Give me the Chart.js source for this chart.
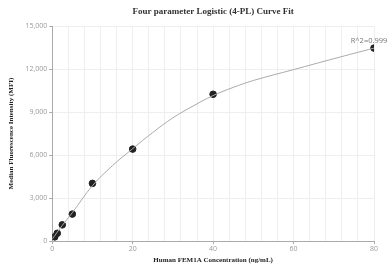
<!DOCTYPE html>
<html>
<head>
<meta charset="utf-8">
<script src="https://cdn.jsdelivr.net/npm/chart.js@4.4.1/dist/chart.umd.min.js"></script>
<style>
  html, body { margin: 0; padding: 0; background: #fff; }
  #wrap { width: 392px; height: 271px; }
</style>
</head>
<body>
<div id="wrap"><canvas id="myChart"></canvas></div>
<script>
// measured standards
var conc = [0.625, 1.25, 2.5, 5, 10, 20, 40, 80];
var mfi = [300, 550, 1140, 1890, 4030, 6420, 10240, 13460];

// fitted curve
var fit_x = [0, 2.5, 5, 10, 15, 20, 25, 30, 35, 40, 45, 50, 60, 70, 80];
var fit_y = [150, 1100, 1990, 3870, 5270, 6450, 7580, 8600, 9420, 10150, 10720, 11200, 11960, 12720, 13460];

var x_ticks = [0, 20, 40, 60, 80];
var r2_label = "R^2=0.999";
var title_text = 'Four parameter Logistic (4-PL) Curve Fit';

var serif = '"Liberation Serif", "Times New Roman", serif';

function xy(xs, ys){
  return xs.map(function(x, i){ return {x: x, y: ys[i]}; });
}

// title centred over the plot area + R^2 note by the last point
var text_plugin = {
  id: 'texts',
  afterDraw: function(chart){
    var ctx = chart.ctx;
    var a = chart.chartArea;
    var sx = chart.scales.x, sy = chart.scales.y;
    var last = conc.length - 1;
    ctx.save();
    ctx.font = 'bold 9px ' + serif;
    ctx.fillStyle = '#333';
    ctx.textAlign = 'center';
    ctx.textBaseline = 'middle';
    ctx.fillText(title_text, (a.left + a.right) / 2, 12);

    ctx.font = '7.5px "Open Sans", sans-serif';
    ctx.fillStyle = '#777';
    ctx.textBaseline = 'bottom';
    ctx.fillText(r2_label, sx.getPixelForValue(conc[last]) - 5, sy.getPixelForValue(mfi[last]) - 3);
    ctx.restore();
  }
};

var chart = new Chart(document.getElementById("myChart"), {
  type: 'scatter',
  data: {
    datasets: [
      {
        type: 'line',
        data: xy(fit_x, fit_y),
        borderColor: '#aaaaaa',
        borderWidth: 1,
        pointRadius: 0,
        tension: 0.4,
        fill: false,
      },
      {
        data: xy(conc, mfi),
        backgroundColor: '#222',
        borderColor: '#222',
        pointRadius: 3.3,
      }
    ]
  },
  options: {
    responsive: true,
    maintainAspectRatio: false,
    animation: false,
    layout: { padding: { left: 7, right: 18, top: 26, bottom: 7 } },
    plugins: {
      legend: { display: false },
      tooltip: { enabled: false },
      title: { display: false }
    },
    scales: {
      x: {
        type: 'linear',
        min: 0, max: 80,
        ticks: {
          stepSize: 4,
          autoSkip: false,
          maxRotation: 0,
          color: '#999',
          font: { family: '"Open Sans", sans-serif', size: 7 },
          padding: 1,
          callback: function(v){ return x_ticks.indexOf(v) >= 0 ? v : ''; }
        },
        grid: {
          color: '#eeeeee',
          tickLength: 3,
          tickColor: function(c){ return c.tick && x_ticks.indexOf(c.tick.value) >= 0 ? '#aaa' : 'rgba(0,0,0,0)'; }
        },
        border: { color: '#aaa' },
        title: {
          display: true,
          text: 'Human FEM1A Concentration (ng/mL)',
          color: '#222',
          font: { family: serif, size: 7, weight: 'bold' },
          padding: { top: 1, bottom: 0 }
        }
      },
      y: {
        min: 0, max: 15000,
        ticks: {
          stepSize: 3000,
          color: '#999',
          font: { family: '"Open Sans", sans-serif', size: 7 },
          padding: 2,
          callback: function(v){ return v.toLocaleString('en-US'); }
        },
        grid: { color: '#eeeeee', tickLength: 3, tickColor: '#aaa' },
        border: { color: '#aaa' },
        title: {
          display: true,
          text: 'Median Fluorescence Intensity (MFI)',
          color: '#222',
          font: { family: serif, size: 7, weight: 'bold' },
          padding: { top: 0, bottom: 8 }
        }
      }
    }
  },
  plugins: [text_plugin]
});
</script>
</body>
</html>
